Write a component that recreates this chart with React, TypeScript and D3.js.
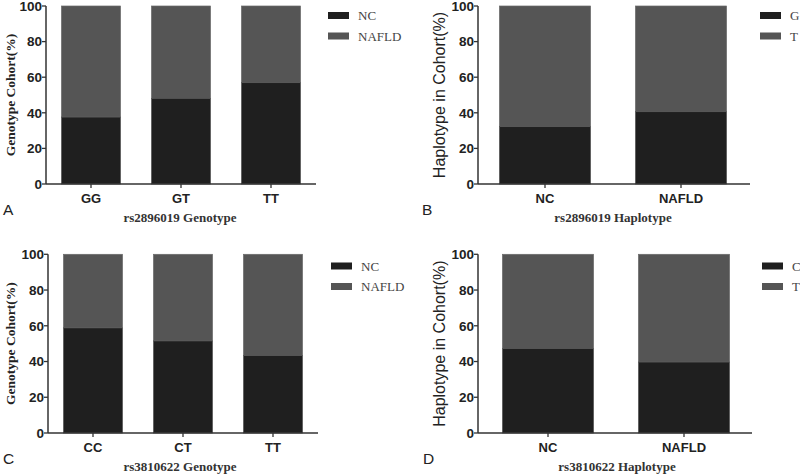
import React from "react";
import * as d3 from "d3";

const yTicks = [0, 20, 40, 60, 80, 100];

const catsA = ["GG", "GT", "TT"];
const lowerA = [37.6, 48.1, 56.9];
const legendA = ["NC", "NAFLD"];

const catsB = ["NC", "NAFLD"];
const lowerB = [32.2, 40.6];
const legendB = ["G", "T"];

const catsC = ["CC", "CT", "TT"];
const lowerC = [58.8, 51.5, 43.3];
const legendC = ["NC", "NAFLD"];

const catsD = ["NC", "NAFLD"];
const lowerD = [47.2, 39.7];
const legendD = ["C", "T"];

const DARK = "#1f1f1f";
const GRAY = "#555555";
const AXIS = "#333333";
const SERIF = "'Liberation Serif', 'Times New Roman', serif";
const SANS = "'Liberation Sans', Arial, sans-serif";

type PanelProps = {
  cats: string[];
  lower: number[];
  legend: string[];
  xTitle: string;
  yTitle: string;
  ySerif: boolean;
  letter: string;
  axisX: number;
  xEnd: number;
  rangeStart: number;
  rangeEnd: number;
  yTop: number;
  yBot: number;
  legendX: number;
  legendY: number;
  yLabelX: number;
  letterX: number;
  titleX: number;
};

function Panel(p: PanelProps) {
  const y = d3.scaleLinear().domain([0, 100]).range([p.yBot, p.yTop]);
  const n = p.cats.length;
  const pi = n === 3 ? 0.344 : 0.33;
  const x = d3
    .scaleBand<string>()
    .domain(p.cats)
    .range([p.rangeStart, p.rangeEnd])
    .paddingInner(pi)
    .paddingOuter(pi / 2);
  const bw = x.bandwidth();
  const yMid = (p.yTop + p.yBot) / 2;
  return (
    <g>
      {p.cats.map((c, i) => {
        const x0 = x(c)!;
        return (
          <g key={c}>
            <rect x={x0} y={y(100)} width={bw} height={y(p.lower[i]) - y(100)} fill={GRAY} stroke="#6a6a6a" strokeWidth={0.7} />
            <rect x={x0} y={y(p.lower[i])} width={bw} height={y(0) - y(p.lower[i])} fill={DARK} stroke="#555" strokeWidth={0.7} />
          </g>
        );
      })}
      <line x1={p.axisX} x2={p.axisX} y1={y(100)} y2={y(0)} stroke={AXIS} strokeWidth={1.5} />
      <line x1={p.axisX} x2={p.xEnd} y1={y(0)} y2={y(0)} stroke={AXIS} strokeWidth={1.5} />
      {yTicks.map((t) => (
        <g key={t}>
          <line x1={p.axisX - 4} x2={p.axisX} y1={y(t)} y2={y(t)} stroke={AXIS} strokeWidth={1.3} />
          <text x={p.axisX - 4} y={y(t)} dy="0.36em" textAnchor="end" fontFamily={SANS} fontWeight="bold" fontSize={13.5} fill="#222">
            {t}
          </text>
        </g>
      ))}
      {p.cats.map((c) => {
        const cx = x(c)! + bw / 2;
        return (
          <g key={c}>
            <line x1={cx} x2={cx} y1={y(0)} y2={y(0) + 4} stroke={AXIS} strokeWidth={1.3} />
            <text x={cx} y={y(0) + 19} textAnchor="middle" fontFamily={SANS} fontWeight="bold" fontSize={13} fill="#222">
              {c}
            </text>
          </g>
        );
      })}
      <text
        transform={`translate(${p.yLabelX},${yMid}) rotate(-90)`}
        textAnchor="middle"
        dy="0.35em"
        fontFamily={p.ySerif ? SERIF : SANS}
        fontWeight={p.ySerif ? "bold" : "normal"}
        fontSize={p.ySerif ? 13.5 : 16}
        fill="#222"
      >
        {p.yTitle}
      </text>
      <text x={p.titleX} y={y(0) + 38} textAnchor="middle" fontFamily={SERIF} fontWeight="bold" fontSize={13} fill="#333">
        {p.xTitle}
      </text>
      <text x={p.letterX} y={y(0) + 31} fontFamily={SANS} fontSize={15.5} fill="#222">
        {p.letter}
      </text>
      {p.legend.map((l, i) => (
        <g key={l}>
          <rect x={p.legendX} y={p.legendY + i * 20.5 - 3.5} width={21} height={7} fill={i === 0 ? DARK : GRAY} />
          <text x={p.legendX + 30} y={p.legendY + i * 20.5} dy="0.35em" fontFamily={SERIF} fontSize={13} fill="#444">
            {l}
          </text>
        </g>
      ))}
    </g>
  );
}

export default function App() {
  return (
    <svg width={800} height={474} style={{ position: "absolute", left: 0, top: 0, background: "#fff" }}>
      <rect x={0} y={0} width={800} height={474} fill="#fff" />
      <Panel cats={catsA} lower={lowerA} legend={legendA} xTitle="rs2896019 Genotype" yTitle="Genotype Cohort(%)" ySerif={true} letter="A"
        axisX={46} xEnd={316} rangeStart={46} rangeEnd={316} yTop={6} yBot={184} legendX={328} legendY={15.5} yLabelX={10} letterX={3} titleX={180} />
      <Panel cats={catsB} lower={lowerB} legend={legendB} xTitle="rs2896019 Haplotype" yTitle="Haplotype in Cohort(%)" ySerif={false} letter="B"
        axisX={478} xEnd={750} rangeStart={477} rangeEnd={749} yTop={6} yBot={184} legendX={760} legendY={15.5} yLabelX={439} letterX={422} titleX={613} />
      <Panel cats={catsC} lower={lowerC} legend={legendC} xTitle="rs3810622 Genotype" yTitle="Genotype Cohort(%)" ySerif={true} letter="C"
        axisX={48} xEnd={318} rangeStart={48} rangeEnd={318} yTop={254.3} yBot={433} legendX={331} legendY={266} yLabelX={10} letterX={3} titleX={180} />
      <Panel cats={catsD} lower={lowerD} legend={legendD} xTitle="rs3810622 Haplotype" yTitle="Haplotype in Cohort(%)" ySerif={false} letter="D"
        axisX={478} xEnd={752} rangeStart={480} rangeEnd={752} yTop={254.3} yBot={433} legendX={762} legendY={266} yLabelX={439} letterX={423} titleX={617} />
    </svg>
  );
}
